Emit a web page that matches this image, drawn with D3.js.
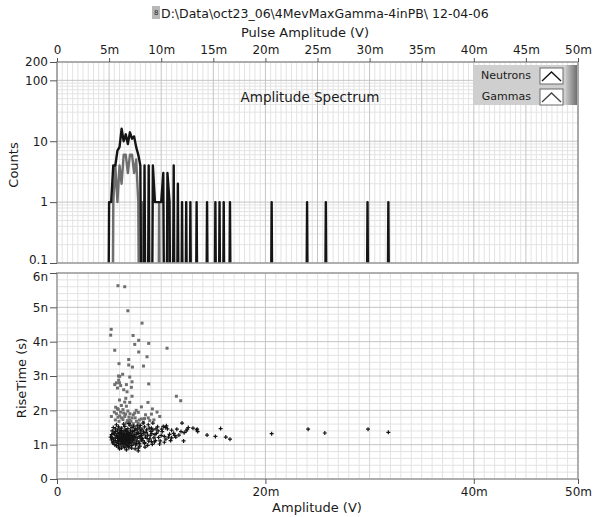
<!DOCTYPE html>
<html>
<head>
<meta charset="utf-8">
<script src="https://cdn.jsdelivr.net/npm/d3@7"></script>
<style>
  body { margin: 0; background: #fff; }
  svg { display: block; }
  text { font-family: "DejaVu Sans", Verdana, sans-serif; fill: #1a1a1a; }
</style>
</head>
<body>
<svg id="chart" width="600" height="517"></svg>
<script>
const titleText = 'D:\\Data\\oct23_06\\4MevMaxGamma-4inPB\\ 12-04-06';
const seriesNames = ['Neutrons', 'Gammas'];
const seriesColors = ['#141414', '#6f6f6f'];

// amplitude spectrum, amplitude in mV
const spectrumAmp = [4.8, 5.0, 5.2, 5.4, 5.6, 5.8, 6.0, 6.2, 6.4, 6.6, 6.8, 7.0, 7.2, 7.4, 7.6, 7.8,
  8.0, 8.2, 8.4, 8.6, 8.8, 9.0, 9.2, 9.4, 9.6, 9.8, 10.0, 10.2, 10.4, 10.6, 10.8, 11.0, 11.2, 11.4,
  11.6, 11.8, 12.0, 12.2, 12.4, 12.6, 12.8, 13.0, 13.2, 13.4, 13.6];
const neutronCounts = [0, 1, 1, 4, 4, 7, 8, 16, 10, 13, 9, 14, 11, 12, 8, 6,
  4, 0, 4, 0, 4, 0, 4, 1, 1, 1, 1, 3, 0, 3, 1, 0, 4, 0,
  2, 0, 1, 0, 1, 0, 1, 0, 0, 1, 0];
const gammaCounts = [0, 0, 0, 1, 4, 1, 4, 2, 6, 6, 3, 6, 6, 3, 5, 1,
  0, 1, 0, 0, 0, 0, 0, 0, 0, 1, 0, 0, 0, 1, 0, 0, 0, 0,
  0, 0, 0, 0, 0, 0, 0, 0, 0, 0, 0];
// single-count neutron bins further out (mV)
const neutronTailAmp = [14.4, 15.2, 15.6, 16.0, 16.6, 20.6, 24.0, 25.8, 29.8, 31.8];

// rise time vs amplitude, [amplitude mV, rise time ns]
const gammaPoints = [
  [5.85, 5.63], [6.5, 5.6], [6.8, 4.9], [8.16, 4.54], [5.2, 4.36], [5.15, 4.19], [7.3, 4.18],
  [7.84, 4.04], [7.46, 3.92], [8.8, 3.95], [5.54, 3.75], [7.84, 3.7], [10.56, 3.81], [8.64, 3.56],
  [6.88, 3.48], [5.95, 3.36], [6.88, 3.32], [7.24, 3.26], [8.3, 3.29], [6.02, 2.99], [6.98, 2.97],
  [5.92, 2.88], [5.7, 2.8], [5.54, 2.75], [6.11, 2.72], [6.66, 2.75], [7.2, 2.83], [7.14, 2.67],
  [8.8, 2.77], [6.72, 2.54], [7.2, 2.41], [11.46, 2.41], [11.87, 2.28], [6.5, 2.24], [6.98, 2.23],
  [8.73, 2.23], [6.18, 2.14], [6.66, 2.12], [5.63, 2.09], [5.88, 2.02], [6.33, 2.02], [9.15, 2.04],
  [5.22, 1.82], [5.7, 1.9], [6.02, 1.84], [6.59, 1.89], [7.32, 1.87], [7.8, 1.94], [8.5, 1.87],
  [9.06, 1.89], [9.86, 1.82], [6.33, 1.73], [6.98, 1.71], [7.62, 1.68], [8.1, 1.75], [8.76, 1.78],
  [5.95, 1.68], [6.66, 1.63], [7.32, 1.61], [5.8, 2.05], [6.1, 1.95], [6.4, 1.92], [6.8, 1.98],
  [7.0, 1.9], [7.5, 1.78], [7.9, 1.72], [8.3, 1.66], [8.9, 1.7], [6.2, 1.78], [5.5, 1.95],
  [6.0, 2.3], [6.6, 2.35], [7.6, 2.0], [8.1, 2.1], [6.9, 1.8], [7.1, 1.68], [5.85, 1.8],
  [9.3, 1.72], [9.6, 1.95], [6.4, 2.6], [5.8, 2.65], [6.0, 2.8], [6.3, 3.05], [5.9, 3.0],
  [5.6, 1.72], [6.5, 1.82], [7.2, 1.78], [7.8, 1.62], [8.4, 1.76], [6.75, 1.7], [7.45, 1.92]
];
const neutronPoints = [
  [5.7, 1.58], [6.4, 1.6], [7.0, 1.57], [7.7, 1.55], [8.27, 1.63], [8.76, 1.58], [9.2, 1.63],
  [10.2, 1.53], [6.9, 1.62], [8.0, 1.56],
  [5.4, 1.5], [5.9, 1.52], [6.2, 1.48], [6.5, 1.53], [6.8, 1.47], [7.2, 1.5], [7.5, 1.46],
  [7.9, 1.49], [8.4, 1.52], [9.06, 1.48], [9.5, 1.46], [10.4, 1.5], [10.5, 1.55], [5.6, 1.46],
  [6.05, 1.45], [7.35, 1.54],
  [5.3, 1.4], [5.6, 1.38], [5.8, 1.42], [6.0, 1.36], [6.2, 1.41], [6.35, 1.37], [6.55, 1.43],
  [6.7, 1.39], [6.9, 1.35], [7.05, 1.42], [7.25, 1.38], [7.45, 1.41], [7.7, 1.36], [8.0, 1.4],
  [8.3, 1.37], [8.6, 1.43], [9.0, 1.39], [9.7, 1.4], [11.0, 1.42], [11.5, 1.45], [12.5, 1.45],
  [13.05, 1.48], [13.4, 1.43], [12.4, 1.4],
  [5.24, 1.29], [5.5, 1.31], [5.7, 1.27], [5.85, 1.33], [6.0, 1.28], [6.1, 1.34], [6.25, 1.3],
  [6.4, 1.26], [6.5, 1.33], [6.6, 1.29], [6.75, 1.32], [6.85, 1.27], [7.0, 1.3], [7.1, 1.34],
  [7.3, 1.26], [7.4, 1.31], [7.6, 1.29], [7.8, 1.33], [8.1, 1.27], [8.35, 1.31], [8.7, 1.28],
  [9.1, 1.32], [9.4, 1.29], [10.0, 1.27], [10.8, 1.3], [11.2, 1.33], [11.7, 1.28], [12.2, 1.35],
  [13.5, 1.38], [14.4, 1.28], [20.6, 1.32], [25.7, 1.34], [31.8, 1.36],
  [5.3, 1.2], [5.45, 1.17], [5.65, 1.22], [5.8, 1.18], [5.9, 1.24], [6.05, 1.16], [6.15, 1.21],
  [6.3, 1.19], [6.42, 1.23], [6.5, 1.16], [6.62, 1.2], [6.72, 1.24], [6.8, 1.17], [6.95, 1.22],
  [7.05, 1.18], [7.2, 1.23], [7.35, 1.16], [7.5, 1.21], [7.7, 1.19], [7.9, 1.24], [8.2, 1.18],
  [8.5, 1.22], [8.9, 1.17], [9.3, 1.2], [10.3, 1.24], [11.0, 1.2], [11.4, 1.22], [15.2, 1.24],
  [16.2, 1.22], [16.6, 1.16], [6.2, 1.25], [6.88, 1.15],
  [5.24, 1.14], [5.4, 1.08], [5.6, 1.12], [5.75, 1.06], [5.95, 1.1], [6.1, 1.13], [6.2, 1.07],
  [6.35, 1.11], [6.45, 1.05], [6.58, 1.14], [6.7, 1.09], [6.82, 1.12], [6.9, 1.06], [7.1, 1.1],
  [7.25, 1.14], [7.4, 1.07], [7.6, 1.11], [7.85, 1.08], [8.1, 1.13], [8.4, 1.06], [8.8, 1.1],
  [9.06, 1.09], [9.9, 1.11], [10.3, 1.07], [12.15, 1.11], [6.0, 1.15], [6.55, 1.08], [7.0, 1.13],
  [5.55, 1.0], [5.7, 0.97], [5.9, 1.03], [6.05, 0.99], [6.25, 1.02], [6.4, 0.96], [6.6, 1.01],
  [6.75, 0.98], [6.95, 1.04], [7.14, 0.97], [7.3, 1.02], [7.55, 0.99], [7.9, 1.03], [8.4, 1.04],
  [8.7, 0.98], [6.15, 1.04], [6.85, 0.95],
  [5.9, 0.93], [6.2, 0.9], [6.5, 0.92], [6.66, 0.85], [6.9, 0.91], [7.17, 0.9], [7.5, 0.88],
  [7.8, 0.9], [7.8, 0.82], [6.0, 0.88],
  [6.3, 1.15], [6.45, 1.3], [6.65, 1.17], [6.7, 1.0], [6.35, 1.05], [6.55, 1.24], [6.9, 1.19],
  [7.15, 1.27], [6.1, 1.2], [6.25, 1.12], [6.78, 1.36], [6.6, 1.42], [7.05, 1.06], [6.0, 1.22],
  [7.4, 1.24], [5.85, 1.12], [6.48, 1.1], [6.95, 1.12], [7.25, 1.2], [6.2, 1.32], [6.4, 1.18],
  [6.8, 1.26],
  [12.6, 1.5], [13.45, 1.45], [15.7, 1.47], [24.1, 1.45], [29.85, 1.45], [11.9, 1.38],
  [10.6, 1.46], [11.3, 1.27], [12.0, 1.63],
  [7.7, 1.45], [8.05, 1.33], [8.25, 1.12], [8.55, 1.36], [8.65, 1.18], [8.95, 1.26], [9.2, 1.43],
  [9.35, 1.08], [9.55, 1.33], [9.75, 1.21], [9.85, 1.02], [10.1, 1.38], [10.45, 1.16], [10.7, 1.22],
  [7.95, 0.96], [8.15, 1.45], [8.45, 0.93], [8.85, 1.48], [9.15, 1.01], [9.65, 1.52], [5.45, 1.33],
  [5.35, 1.05], [5.15, 1.22], [7.65, 1.03], [8.0, 1.2], [9.45, 1.12], [10.05, 1.45], [10.9, 1.12]
];

const topXTicks = [0, 5, 10, 15, 20, 25, 30, 35, 40, 45, 50];
const countTicks = [0.1, 1, 10, 100, 200];
const botXTicks = [0, 20, 40, 50];
const riseTicks = [0, 1, 2, 3, 4, 5, 6];

const svg = d3.select('#chart');
const L = 57, R = 578;
const top1 = 62, bot1 = 263, top2 = 273, bot2 = 479;
const gridMajor = '#c4c4c4', gridMinor = '#e3e3e3', frame = '#9c9c9c';

const xTop = d3.scaleLinear().domain([0, 50]).range([L, R]);
const yCount = d3.scaleLog().domain([0.1, 200]).range([bot1, top1]);
const xBot = d3.scaleLinear().domain([0, 50]).range([L, R]);
const yRise = d3.scaleLinear().domain([0, 6]).range([bot2, top2]);

const fmtM = d => d === 0 ? '0' : d + 'm';
const fmtN = d => d === 0 ? '0' : d + 'n';

// title
svg.append('rect').attr('x', 152).attr('y', 6).attr('width', 8).attr('height', 13).attr('fill', '#b8b8b8');
svg.append('text').attr('x', 154).attr('y', 15).attr('font-size', 7).text('8');
svg.append('text').attr('x', 161).attr('y', 18).attr('font-size', 12.5).text(titleText);
svg.append('text').attr('x', 305).attr('y', 37).attr('font-size', 13)
  .attr('text-anchor', 'middle').text('Pulse Amplitude (V)');

function vgrid(g, scale, values, color, y0, y1) {
  g.selectAll(null).data(values).join('line')
    .attr('x1', d => scale(d)).attr('x2', d => scale(d))
    .attr('y1', y0).attr('y2', y1)
    .attr('stroke', color).attr('stroke-width', 1);
}
function hgrid(g, scale, values, color) {
  g.selectAll(null).data(values).join('line')
    .attr('x1', L).attr('x2', R)
    .attr('y1', d => scale(d)).attr('y2', d => scale(d))
    .attr('stroke', color).attr('stroke-width', 1);
}

// ---- upper plot: amplitude spectrum
const g1 = svg.append('g');
g1.append('rect').attr('x', L).attr('y', top1).attr('width', R - L).attr('height', bot1 - top1).attr('fill', '#fff');
vgrid(g1, xTop, d3.range(0.5, 50, 0.5).filter(d => d % 5 !== 0), gridMinor, top1, bot1);
const logMinor = [];
[0.1, 1, 10, 100].forEach(dec => { for (let k = 2; k <= 9; k++) if (dec * k <= 200) logMinor.push(dec * k); });
hgrid(g1, yCount, logMinor, gridMinor);
vgrid(g1, xTop, topXTicks, gridMajor, top1, bot1);
hgrid(g1, yCount, [1, 10, 100], gridMajor);

svg.append('clipPath').attr('id', 'clip1').append('rect')
  .attr('x', L).attr('y', top1).attr('width', R - L).attr('height', bot1 - top1);

const countLine = d3.line()
  .x(d => xTop(d.a))
  .y(d => yCount(Math.max(d.c, 1e-6)));

const gammaSeries = spectrumAmp.map((a, i) => ({ a, c: gammaCounts[i] }));
const neutronSeries = spectrumAmp.map((a, i) => ({ a, c: neutronCounts[i] }));
neutronTailAmp.forEach(a => {
  neutronSeries.push({ a: a - 0.2, c: 0 }, { a, c: 1 }, { a: a + 0.2, c: 0 });
});

const plot1 = g1.append('g').attr('clip-path', 'url(#clip1)');
plot1.append('path').attr('d', countLine(gammaSeries))
  .attr('fill', 'none').attr('stroke', seriesColors[1]).attr('stroke-width', 2.4).attr('stroke-linejoin', 'round');
plot1.append('path').attr('d', countLine(neutronSeries))
  .attr('fill', 'none').attr('stroke', seriesColors[0]).attr('stroke-width', 2.4).attr('stroke-linejoin', 'round');

g1.append('rect').attr('x', L).attr('y', top1).attr('width', R - L).attr('height', bot1 - top1)
  .attr('fill', 'none').attr('stroke', frame).attr('stroke-width', 1.6);

g1.append('text').attr('x', 310).attr('y', 102).attr('font-size', 13.5)
  .attr('text-anchor', 'middle').text('Amplitude Spectrum');

// legend
const defs = svg.append('defs');
const lg = defs.append('linearGradient').attr('id', 'legEdge');
lg.append('stop').attr('offset', '0%').attr('stop-color', '#c4c4c4');
lg.append('stop').attr('offset', '100%').attr('stop-color', '#707070');
const leg = svg.append('g');
leg.append('rect').attr('x', 473).attr('y', 65).attr('width', 104).attr('height', 40).attr('fill', '#cfcfcf');
leg.append('rect').attr('x', 566).attr('y', 65).attr('width', 11).attr('height', 40).attr('fill', 'url(#legEdge)');
seriesNames.forEach((name, i) => {
  const yy = 67 + i * 21;
  leg.append('text').attr('x', 531).attr('y', yy + 12).attr('font-size', 11)
    .attr('text-anchor', 'end').text(name);
  leg.append('rect').attr('x', 540).attr('y', yy + 1).attr('width', 23).attr('height', 16)
    .attr('fill', '#fff').attr('stroke', '#6a6a6a');
  leg.append('path').attr('d', `M${542},${yy + 14}L${551.5},${yy + 5}L${561},${yy + 14}`)
    .attr('fill', 'none').attr('stroke', i === 0 ? '#111' : '#444').attr('stroke-width', 1.3);
});

// axes of upper plot
const axTop = svg.append('g').attr('transform', `translate(0,${top1})`)
  .call(d3.axisTop(xTop).tickValues(topXTicks).tickFormat(fmtM).tickSize(4).tickPadding(4));
const axCount = svg.append('g').attr('transform', `translate(${L},0)`)
  .call(d3.axisLeft(yCount).tickValues(countTicks).tickFormat(d => d).tickSize(7).tickPadding(2));

svg.append('text').attr('transform', 'translate(18,165) rotate(-90)')
  .attr('font-size', 13).attr('text-anchor', 'middle').text('Counts');

// ---- lower plot: rise time vs amplitude
const g2 = svg.append('g');
g2.append('rect').attr('x', L).attr('y', top2).attr('width', R - L).attr('height', bot2 - top2).attr('fill', '#fff');
vgrid(g2, xBot, d3.range(1, 50, 1).filter(d => d % 10 !== 0), gridMinor, top2, bot2);
hgrid(g2, yRise, d3.range(0.2, 6, 0.2).filter(d => Math.abs(d - Math.round(d)) > 0.01), gridMinor);
vgrid(g2, xBot, [10, 30], '#d6d6d6', top2, bot2);
vgrid(g2, xBot, [20, 40], gridMajor, top2, bot2);
hgrid(g2, yRise, [1, 2, 3, 4, 5], gridMajor);

svg.append('clipPath').attr('id', 'clip2').append('rect')
  .attr('x', L).attr('y', top2).attr('width', R - L).attr('height', bot2 - top2);
const plot2 = g2.append('g').attr('clip-path', 'url(#clip2)');

plot2.selectAll('rect.gam').data(gammaPoints).join('rect')
  .attr('class', 'gam')
  .attr('x', d => xBot(d[0]) - 1.5).attr('y', d => yRise(d[1]) - 1.5)
  .attr('width', 3).attr('height', 3).attr('fill', seriesColors[1]);

plot2.selectAll('path.neu').data(neutronPoints).join('path')
  .attr('class', 'neu')
  .attr('d', d => {
    const px = xBot(d[0]), py = yRise(d[1]);
    return `M${px - 2},${py}h4M${px},${py - 2}v4`;
  })
  .attr('stroke', seriesColors[0]).attr('stroke-width', 1.2).attr('fill', 'none');

g2.append('rect').attr('x', L).attr('y', top2).attr('width', R - L).attr('height', bot2 - top2)
  .attr('fill', 'none').attr('stroke', frame).attr('stroke-width', 1.6);

const axBot = svg.append('g').attr('transform', `translate(0,${bot2})`)
  .call(d3.axisBottom(xBot).tickValues(botXTicks).tickFormat(fmtM).tickSize(5).tickPadding(3));
const axRise = svg.append('g').attr('transform', `translate(${L},0)`)
  .call(d3.axisLeft(yRise).tickValues(riseTicks).tickFormat(fmtN).tickSize(7).tickPadding(2));

svg.append('text').attr('transform', 'translate(26,378) rotate(-90)')
  .attr('font-size', 13).attr('text-anchor', 'middle').text('RiseTime (s)');
svg.append('text').attr('x', 317).attr('y', 512).attr('font-size', 13)
  .attr('text-anchor', 'middle').text('Amplitude (V)');

[axTop, axCount, axBot, axRise].forEach(ax => {
  ax.select('.domain').remove();
  ax.selectAll('.tick line').attr('stroke', '#555');
  ax.selectAll('.tick text').attr('font-size', 12).attr('font-family', '"DejaVu Sans", Verdana, sans-serif').attr('fill', '#1a1a1a');
});
// keep the adjoining "0.1" and "6n" labels apart
axCount.selectAll('.tick text').filter(d => d === 0.1).attr('dy', '0.05em');
axRise.selectAll('.tick text').filter(d => d === 6).attr('dy', '0.62em');
</script>
</body>
</html>
